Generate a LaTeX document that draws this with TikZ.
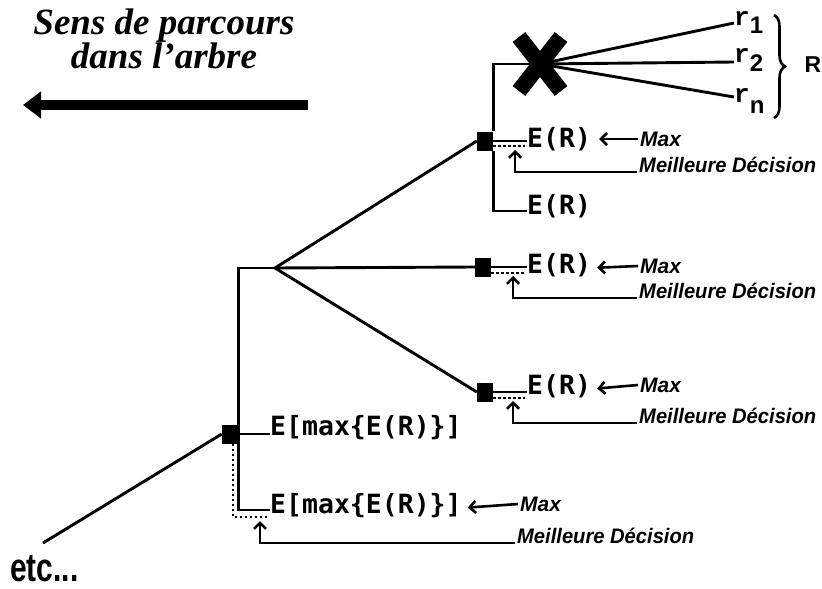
\documentclass[tikz,border=0pt]{standalone}
\usepackage{fontspec}
\setmainfont{Liberation Serif}
\newfontfamily\monof{DejaVu Sans Mono}
\newfontfamily\sansf{Liberation Sans}
\newfontfamily\courf{Liberation Mono}
\usetikzlibrary{arrows.meta,decorations.pathreplacing,calc}
\begin{document}
\begin{tikzpicture}[x=1pt,y=-1pt,
  ln/.style={line width=2.9pt},
  decbox/.style={rectangle,fill=black,minimum width=16pt,minimum height=19pt,inner sep=0pt},
  dots/.style={line width=2.2pt,dash pattern=on 2.5pt off 2.5pt},
  ertext/.style={font=\monof\bfseries\fontsize{26.5}{26.5}\selectfont,inner sep=0pt,anchor=west},
  ann/.style={font=\sansf\bfseries\itshape\fontsize{21}{21}\selectfont,inner sep=2pt},
  arr/.style={line width=2.6pt,-{Straight Barb[length=6pt,width=12pt]}},
  rlab/.style={anchor=base west,inner sep=0pt},
]
\useasboundingbox (0,0) rectangle (822,589);

% title
\node[font=\bfseries\itshape\fontsize{37}{28}\selectfont,align=center] (title) at (164,39) {Sens de parcours\\dans l'arbre};
\coordinate (ta0) at (308,105);
\coordinate (ta1) at (23,105);
\draw[line width=10pt,-{Triangle[length=18pt,width=26pt]}] (ta0) -- (ta1);

% decision squares
\node[decbox] (d1) at (485,141) {};
\node[decbox] (d2) at (483,267) {};
\node[decbox] (d3) at (485,392) {};
\node[decbox] (m) at (230,434) {};
\coordinate (c) at (275,268);
\coordinate (start) at (43,543);

% E(R) texts
\node[ertext] (er1) at (527,139) {E(R)};
\node[ertext] (er1b) at (527,206) {E(R)};
\node[ertext] (er2) at (527,265) {E(R)};
\node[ertext] (er3) at (527,386) {E(R)};
\node[ertext] (em1) at (270,428) {E[max\{E(R)\}]};
\node[ertext] (em2) at (270,506) {E[max\{E(R)\}]};

% Max labels
\node[ann,anchor=west] (mx1) at (638,139) {Max};
\node[ann,anchor=west] (mx2) at (638,266) {Max};
\node[ann,anchor=west] (mx3) at (638,385) {Max};
\node[ann,anchor=west] (mxm) at (518,504) {Max};
% Meilleure Decision labels
\node[ann,anchor=base west] (md1) at (637,172) {\scalebox{0.96}[1]{Meilleure Décision}};
\node[ann,anchor=base west] (md2) at (637,298) {\scalebox{0.96}[1]{Meilleure Décision}};
\node[ann,anchor=base west] (md3) at (637,423) {\scalebox{0.96}[1]{Meilleure Décision}};
\node[ann,anchor=base west] (mdm) at (515,543) {\scalebox{0.96}[1]{Meilleure Décision}};

% arrow tip targets
\coordinate (u1) at (515,150);
\coordinate (u2) at (513,276);
\coordinate (u3) at (513,401);
\coordinate (um) at (260,521);

% tree lines
\draw[ln] (start) -- (m.west);
\draw[ln] (m.east) -- (m.east -| em1.west);
\draw[ln] (c) -- (c -| m.east) |- ([yshift=-4pt]em2.west);
\draw[ln] (c) -- (d1.west);
\draw[ln] (c) -- (d2.west);
\draw[ln] (c) -- (d3.west);

% top node
\coordinate (xc) at (540,64);
\node[rlab] (r1) at (734,25) {\courf\bfseries\fontsize{26}{26}\selectfont r\raisebox{-8pt}{\sansf\fontsize{24}{24}\selectfont 1}};
\node[rlab] (r2) at (734,62) {\courf\bfseries\fontsize{26}{26}\selectfont r\raisebox{-9pt}{\sansf\fontsize{24}{24}\selectfont 2}};
\node[rlab] (rn) at (734,102) {\courf\bfseries\fontsize{26}{26}\selectfont r\raisebox{-11pt}{\sansf\fontsize{24}{24}\selectfont n}};
\draw[ln] (d1.north east) |- (xc);
\draw[ln] (xc) -- ([yshift=2pt]r1.base west);
\draw[ln] (xc) -- (r2.base west);
\draw[ln] (xc) -- ([yshift=5pt]rn.base west);
\draw[line width=16pt] ($(xc)+(-21,-27)$) -- ($(xc)+(21,27)$);
\draw[line width=16pt] ($(xc)+(-21,27)$) -- ($(xc)+(21,-27)$);
\coordinate (b0) at (774,15);
\coordinate (b1) at (774,118);
\draw[line width=2.6pt,decorate,decoration={brace,amplitude=11pt}] (b0) -- (b1);
\node[font=\sansf\bfseries\fontsize{23}{23}\selectfont] (R) at (813,65) {R};

\draw[ln] (d1.east) -- (d1.east -| er1.west);
\draw[dots] ([yshift=-5pt]d1.east) -- ([yshift=-5pt,xshift=-2pt]d1.east -| er1.west);
\draw[ln] (d1.south east) |- ([yshift=-5pt]er1b.west);
\draw[arr,shorten >=8pt] (mx1.west) -- (er1.east);
\draw[arr] (md1.base west) -| (u1);

% middle node
\draw[ln] (d2.east) -- (d2.east -| er2.west);
\draw[dots] ([yshift=-6pt]d2.east) -- ([yshift=-6pt,xshift=-2pt]d2.east -| er2.west);
\draw[arr,shorten >=6pt] (mx2.west) -- ([yshift=-3pt]er2.east);
\draw[arr] (md2.base west) -| (u2);

% third node
\draw[ln] (d3.east) -- (d3.east -| er3.west);
\draw[dots] ([yshift=-6pt]d3.east) -- ([yshift=-6pt,xshift=-2pt]d3.east -| er3.west);
\draw[arr,shorten >=6pt] (mx3.west) -- ([yshift=-3pt]er3.east);
\draw[arr] (md3.base west) -| (u3);

% main node
\draw[dots] ([xshift=3pt]m.south) |- ([yshift=-11pt,xshift=-2pt]em2.west);
\draw[arr,shorten >=6pt] (mxm.west) -- ([yshift=-2pt]em2.east);
\draw[arr] (mdm.base west) -| (um);

% etc
\node[font=\sansf\bfseries\fontsize{40}{40}\selectfont,anchor=base west,inner sep=0pt] (etc) at (10,581) {\scalebox{0.75}[1]{etc...}};
\end{tikzpicture}
\end{document}
